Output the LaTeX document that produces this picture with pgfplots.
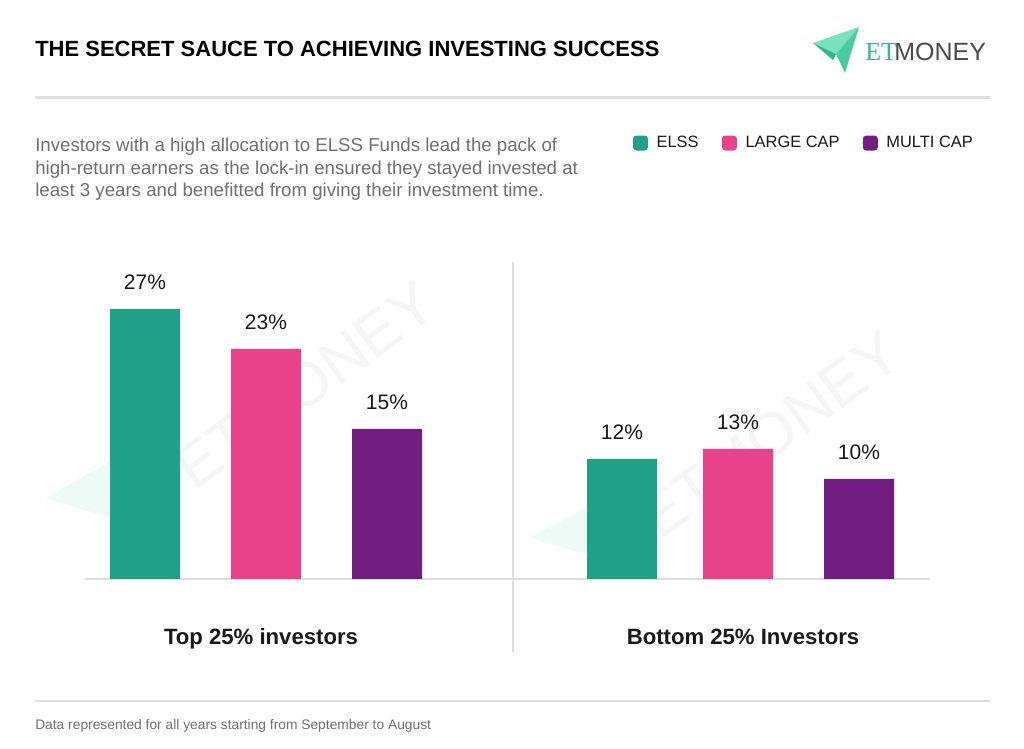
\documentclass[border=0pt]{standalone}
\usepackage{fontspec}
\setmainfont{Liberation Sans}
\newfontfamily\serifet{Liberation Serif}
\usepackage{pgfplots}
\pgfplotsset{compat=1.18}
\definecolor{elss}{RGB}{32,160,134}
\definecolor{lcap}{RGB}{232,67,138}
\definecolor{mcap}{RGB}{114,30,128}
\definecolor{subgray}{RGB}{112,112,112}
\definecolor{linegray}{RGB}{222,222,222}
\definecolor{etgreen}{RGB}{60,181,152}
\definecolor{planeA}{RGB}{120,226,190}
\definecolor{planeB}{RGB}{72,205,160}
\definecolor{planeC}{RGB}{50,180,140}
\definecolor{txt}{RGB}{25,25,25}
\definecolor{wm}{RGB}{245,245,245}
\definecolor{wmg}{RGB}{238,250,246}
\begin{document}
\begin{tikzpicture}
\begin{scope}[x=0.75pt,y=-0.75pt,shift={(0pt,561.75pt)}]
  \fill[white] (0,0) rectangle (1024,749);
  % watermarks
  \fill[wmg] (45,498) -- (150,440) -- (118,520) -- cycle;
  \node[rotate=36,text=wm,font=\fontsize{46}{50}\selectfont] at (305,385) {ETMONEY};
  \fill[wmg] (530,538) -- (640,478) -- (605,560) -- cycle;
  \node[rotate=36,text=wm,font=\fontsize{46}{50}\selectfont] at (770,435) {ETMONEY};
  % title
  \node[anchor=base west,inner sep=0,text=black,font=\bfseries\fontsize{16.5}{20}\selectfont] at (35,57) {THE SECRET SAUCE TO ACHIEVING INVESTING SUCCESS};
  % logo
  \fill[planeA] (813,43) -- (859,27) -- (836,54) -- cycle;
  \fill[planeB] (836,54) -- (859,27) -- (845,73) -- cycle;
  \fill[planeC] (813,43) -- (836,54) -- (833,60) -- cycle;
  \node[anchor=base west,inner sep=0,text=etgreen,font=\serifet\fontsize{19.5}{22}\selectfont] at (865,61) {ET};
  \node[anchor=base west,inner sep=0,text=black!70,font=\fontsize{18.75}{22}\selectfont] at (894,61) {MONEY};
  % rules
  \draw[linegray,line width=2.25pt] (35,98) -- (990,98);
  \draw[linegray,line width=1.1pt] (35,701) -- (990,701);
  % subtitle
  \begin{scope}[every node/.style={anchor=base west,inner sep=0,text=subgray,font=\fontsize{14}{17}\selectfont}]
    \node at (35,152) {Investors with a high allocation to ELSS Funds lead the pack of};
    \node at (35,175) {high-return earners as the lock-in ensured they stayed invested at};
    \node at (35,197) {least 3 years and benefitted from giving their investment time.};
  \end{scope}
  % baseline and separator
  \draw[linegray,line width=0.9pt] (85,579) -- (930,579);
  \draw[linegray,line width=0.9pt] (513,262) -- (513,652);
  % group labels
  \node[anchor=base,inner sep=0,text=txt,font=\bfseries\fontsize{16.6}{20}\selectfont] at (261,645) {Top 25\% investors};
  \node[anchor=base,inner sep=0,text=txt,font=\bfseries\fontsize{16.6}{20}\selectfont] at (743,645) {Bottom 25\% Investors};
  % footnote
  \node[anchor=base west,inner sep=0,text=subgray,font=\fontsize{10.35}{12}\selectfont] at (35,730) {Data represented for all years starting from September to August};
\end{scope}
\begin{axis}[
  at={(0pt,0pt)}, anchor=south west,
  x=0.75pt, y=7.5pt,
  xmin=0, xmax=1024, ymin=-17, ymax=57.9,
  hide axis, clip=false,
  /pgf/number format/assume math mode=true,
  ybar, bar width=52.5pt,
  nodes near coords={\pgfmathprintnumber{\pgfplotspointmeta}\%},
  nodes near coords align={vertical},
  every node near coord/.append style={anchor=south,inner sep=0pt,yshift=14.25pt,text=txt,font=\fontsize{15.75}{18}\selectfont},
  legend columns=3,
  legend style={at={(0.614,0.809)}, anchor=west, draw=none, fill=none,
    font=\fontsize{12.3}{14}\selectfont, text=txt,
    /tikz/every odd column/.append style={column sep=4.5pt},
    /tikz/every even column/.append style={column sep=15.5pt}},
  legend image code/.code={\fill[#1,rounded corners=2.5pt] (0pt,-5.6pt) rectangle (11.25pt,5.6pt);},
]
\addplot[fill=elss,draw=none,bar shift=0pt] coordinates {(145,27) (622,12)};
\addlegendentry{ELSS}
\addplot[fill=lcap,draw=none,bar shift=0pt] coordinates {(266,23) (738,13)};
\addlegendentry{LARGE CAP}
\addplot[fill=mcap,draw=none,bar shift=0pt] coordinates {(387,15) (859,10)};
\addlegendentry{MULTI CAP}
\end{axis}
\end{tikzpicture}
\end{document}
